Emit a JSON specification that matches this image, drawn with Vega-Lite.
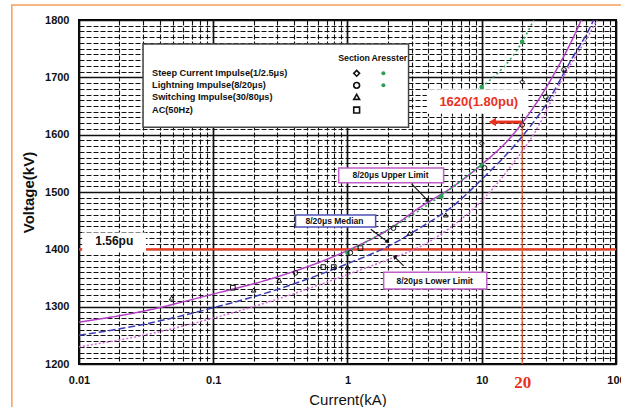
{
  "$schema": "https://vega.github.io/schema/vega-lite/v6.json",
  "width": 537,
  "height": 344,
  "autosize": {"type": "none"},
  "padding": {"left": 79, "top": 20, "right": 5, "bottom": 43},
  "background": "white",
  "config": {"view": {"stroke": "#000", "strokeWidth": 2}, "font": "Liberation Sans"},
  "datasets": {
    "curves": [
      {"I": 0.01, "V": 1273, "s": "upper"}, {"I": 0.03, "V": 1292, "s": "upper"}, {"I": 0.1, "V": 1322, "s": "upper"}, {"I": 0.3, "V": 1352, "s": "upper"}, {"I": 1, "V": 1398, "s": "upper"}, {"I": 2, "V": 1434, "s": "upper"}, {"I": 3.5, "V": 1474, "s": "upper"}, {"I": 6, "V": 1508, "s": "upper"}, {"I": 10, "V": 1548, "s": "upper"}, {"I": 16.5, "V": 1596, "s": "upper"}, {"I": 25, "V": 1652, "s": "upper"}, {"I": 35, "V": 1708, "s": "upper"}, {"I": 50, "V": 1778, "s": "upper"}, {"I": 60, "V": 1820, "s": "upper"},
      {"I": 0.01, "V": 1250, "s": "median"}, {"I": 0.03, "V": 1269, "s": "median"}, {"I": 0.1, "V": 1298, "s": "median"}, {"I": 0.3, "V": 1330, "s": "median"}, {"I": 1, "V": 1375, "s": "median"}, {"I": 2, "V": 1405, "s": "median"}, {"I": 3.5, "V": 1438, "s": "median"}, {"I": 6, "V": 1474, "s": "median"}, {"I": 10, "V": 1522, "s": "median"}, {"I": 20, "V": 1597, "s": "median"}, {"I": 30, "V": 1652, "s": "median"}, {"I": 45, "V": 1725, "s": "median"}, {"I": 68, "V": 1800, "s": "median"}, {"I": 80, "V": 1840, "s": "median"},
      {"I": 0.01, "V": 1230, "s": "lower"}, {"I": 0.03, "V": 1250, "s": "lower"}, {"I": 0.1, "V": 1280, "s": "lower"}, {"I": 0.3, "V": 1313, "s": "lower"}, {"I": 1, "V": 1356, "s": "lower"}, {"I": 2, "V": 1382, "s": "lower"}, {"I": 3.5, "V": 1405, "s": "lower"}, {"I": 6, "V": 1440, "s": "lower"}, {"I": 10, "V": 1485, "s": "lower"}, {"I": 16.5, "V": 1545, "s": "lower"}, {"I": 25, "V": 1605, "s": "lower"}, {"I": 40, "V": 1698, "s": "lower"}, {"I": 72, "V": 1800, "s": "lower"}, {"I": 85, "V": 1835, "s": "lower"}
    ],
    "arrester": [
      {"I": 7, "V": 1658, "g": "steep"}, {"I": 10, "V": 1683, "g": "steep"}, {"I": 20, "V": 1762, "g": "steep"}, {"I": 25, "V": 1805, "g": "steep"},
      {"I": 1, "V": 1396, "g": "lightning"}, {"I": 2, "V": 1434, "g": "lightning"}, {"I": 5, "V": 1494, "g": "lightning"}, {"I": 10, "V": 1548, "g": "lightning"}
    ],
    "arresterPts": [
      {"I": 10, "V": 1683}, {"I": 20, "V": 1762}, {"I": 1, "V": 1394}, {"I": 5, "V": 1492}, {"I": 10, "V": 1546}
    ],
    "section": [
      {"I": 10, "V": 1585, "t": "steep"}, {"I": 20, "V": 1692, "t": "steep"},
      {"I": 20, "V": 1617, "t": "lightning"}, {"I": 10.5, "V": 1542, "t": "lightning"}, {"I": 30, "V": 1666, "t": "lightning"}, {"I": 41, "V": 1713, "t": "lightning"}, {"I": 2.2, "V": 1437, "t": "lightning"}, {"I": 1.05, "V": 1394, "t": "lightning"}, {"I": 0.41, "V": 1359, "t": "lightning"},
      {"I": 5.4, "V": 1460, "t": "switching"}, {"I": 2.9, "V": 1428, "t": "switching"}, {"I": 1.0, "V": 1369, "t": "switching"}, {"I": 0.2, "V": 1329, "t": "switching"}, {"I": 0.049, "V": 1315, "t": "switching"}, {"I": 0.31, "V": 1346, "t": "switching"},
      {"I": 0.14, "V": 1333, "t": "ac"}, {"I": 0.66, "V": 1369, "t": "ac"}, {"I": 0.79, "V": 1369, "t": "ac"}, {"I": 1.25, "V": 1402, "t": "ac"}
    ],
    "boxes": [
      {"I": 0.03, "I2": 2.85, "V": 1758, "V2": 1613, "k": "legend"},
      {"I": 0.0107, "I2": 0.0311, "V": 1428, "V2": 1396, "k": "plain"},
      {"I": 3.95, "I2": 22, "V": 1678, "V2": 1638, "k": "plain"},
      {"I": 0.86, "I2": 5.2, "V": 1542, "V2": 1516, "k": "upper"},
      {"I": 0.41, "I2": 1.62, "V": 1460, "V2": 1439, "k": "median"},
      {"I": 1.86, "I2": 10.9, "V": 1360, "V2": 1331, "k": "lower"}
    ],
    "legendText": [
      {"I": 0.035, "V": 1707, "txt": "Steep Current Impulse(1/2.5μs)"},
      {"I": 0.035, "V": 1686, "txt": "Lightning Impulse(8/20μs)"},
      {"I": 0.035, "V": 1666, "txt": "Switching Impulse(30/80μs)"},
      {"I": 0.035, "V": 1643, "txt": "AC(50Hz)"}
    ],
    "legendHead": [
      {"I": 1.12, "V": 1734, "txt": "Section"},
      {"I": 2.05, "V": 1734, "txt": "Aresster"}
    ],
    "legendSym": [
      {"I": 1.17, "V": 1707, "t": "steep"}, {"I": 1.17, "V": 1686, "t": "lightning"}, {"I": 1.17, "V": 1666, "t": "switching"}, {"I": 1.17, "V": 1643, "t": "ac"}
    ],
    "legendGreen": [{"I": 1.85, "V": 1707}, {"I": 1.85, "V": 1686}],
    "annText": [
      {"I": 2.09, "V": 1529, "txt": "8/20μs Upper Limit"},
      {"I": 0.80, "V": 1449, "txt": "8/20μs Median"},
      {"I": 4.46, "V": 1345, "txt": "8/20μs Lower Limit"}
    ],
    "arrows": [
      {"I": 3.0, "V": 1514, "I2": 3.97, "V2": 1485, "a": 123},
      {"I": 1.49, "V": 1435, "I2": 1.99, "V2": 1413, "a": 127},
      {"I": 2.62, "V": 1371, "I2": 2.24, "V2": 1387, "a": 315}
    ]
  },
  "encoding": {
    "x": {
      "field": "I", "type": "quantitative",
      "scale": {"type": "log", "domain": [0.01, 100], "nice": false},
      "axis": {
        "values": [0.01, 0.02, 0.03, 0.04, 0.05, 0.06, 0.07, 0.08, 0.09, 0.1, 0.2, 0.3, 0.4, 0.5, 0.6, 0.7, 0.8, 0.9, 1, 2, 3, 4, 5, 6, 7, 8, 9, 10, 20, 30, 40, 50, 60, 70, 80, 90, 100],
        "format": "~g",
        "labelExpr": "(datum.value == 20 || abs(log(datum.value)/LN10 - round(log(datum.value)/LN10)) < 0.01) ? datum.label : ''",
        "grid": true,
        "gridColor": "#111",
        "gridOpacity": 1,
        "gridDash": {"condition": {"test": "abs(log(datum.value)/LN10 - round(log(datum.value)/LN10)) < 0.01", "value": []}, "value": [5, 2]},
        "gridWidth": {"condition": {"test": "abs(log(datum.value)/LN10 - round(log(datum.value)/LN10)) < 0.01", "value": 1.7}, "value": 1.1},
        "ticks": false,
        "domain": false,
        "labelOverlap": false,
        "labelFlush": false,
        "labelFontWeight": "bold",
        "labelFontSize": {"condition": {"test": "datum.value == 20", "value": 17}, "value": 11},
        "labelFont": {"condition": {"test": "datum.value == 20", "value": "Liberation Serif"}, "value": "Liberation Sans"},
        "labelColor": {"condition": {"test": "datum.value == 20", "value": "#e8321e"}, "value": "#111"},
        "labelPadding": 10,
        "title": "Current(kA)",
        "titleFontSize": 15,
        "titleFontWeight": "normal",
        "titleColor": "#111",
        "titlePadding": 2
      }
    },
    "y": {
      "field": "V", "type": "quantitative",
      "scale": {"domain": [1200, 1800], "nice": false, "zero": false},
      "axis": {
        "values": [1200, 1210, 1220, 1230, 1240, 1250, 1260, 1270, 1280, 1290, 1300, 1310, 1320, 1330, 1340, 1350, 1360, 1370, 1380, 1390, 1400, 1410, 1420, 1430, 1440, 1450, 1460, 1470, 1480, 1490, 1500, 1510, 1520, 1530, 1540, 1550, 1560, 1570, 1580, 1590, 1600, 1610, 1620, 1630, 1640, 1650, 1660, 1670, 1680, 1690, 1700, 1710, 1720, 1730, 1740, 1750, 1760, 1770, 1780, 1790, 1800],
        "format": "d",
        "labelExpr": "datum.value % 100 == 0 ? datum.label : ''",
        "grid": true,
        "gridColor": "#111",
        "gridOpacity": 1,
        "gridDash": {"condition": {"test": "datum.value % 100 == 0", "value": []}, "value": [5, 2]},
        "gridWidth": {"condition": {"test": "datum.value % 100 == 0", "value": 1.7}, "value": 1.1},
        "ticks": false,
        "domain": false,
        "labelOverlap": false,
        "labelFontWeight": "bold",
        "labelFontSize": 11,
        "labelColor": "#111",
        "labelPadding": 10,
        "title": "Voltage(kV)",
        "titleFontSize": 15,
        "titleFontWeight": "bold",
        "titleColor": "#111",
        "titlePadding": 8
      }
    }
  },
  "layer": [
    {
      "data": {"values": [{"I": 0.00316, "I2": 500, "V": 1826, "V2": 1050}]},
      "mark": {"type": "rect", "fillOpacity": 0, "stroke": "#f4a05a", "strokeWidth": 1.5},
      "encoding": {"x2": {"field": "I2"}, "y2": {"field": "V2"}}
    },
    {
      "data": {"values": [{"I": 0.01, "I2": 100, "V": 1400}]},
      "mark": {"type": "rule", "color": "#ee3b1f", "strokeWidth": 2.2},
      "encoding": {"x2": {"field": "I2"}}
    },
    {
      "data": {"values": [{"I": 20, "V": 1200, "V2": 1622}]},
      "mark": {"type": "rule", "color": "#f0602a", "strokeWidth": 1.2},
      "encoding": {"y2": {"field": "V2"}}
    },
    {
      "data": {"name": "curves"},
      "mark": {"type": "line", "interpolate": "monotone", "clip": true, "strokeWidth": 1.5},
      "encoding": {
        "color": {"field": "s", "type": "nominal", "scale": {"domain": ["upper", "median", "lower"], "range": ["#b23fc4", "#3c3cb4", "#d36ad6"]}, "legend": null},
        "strokeDash": {"field": "s", "type": "nominal", "scale": {"domain": ["upper", "median", "lower"], "range": [[1, 0], [7, 3], [2, 2]]}, "legend": null}
      }
    },
    {
      "data": {"name": "arrester"},
      "mark": {"type": "line", "interpolate": "monotone", "clip": true, "strokeWidth": 1.6, "color": "#2aa055", "strokeDash": [2, 3]},
      "encoding": {"detail": {"field": "g", "type": "nominal"}}
    },
    {
      "data": {"name": "arresterPts"},
      "mark": {"type": "point", "filled": true, "color": "#2aa055", "size": 22, "opacity": 1}
    },
    {
      "data": {"name": "section"},
      "mark": {"type": "point", "filled": false, "color": "#111", "size": 22, "strokeWidth": 1, "opacity": 1},
      "encoding": {
        "shape": {"field": "t", "type": "nominal", "scale": {"domain": ["steep", "lightning", "switching", "ac"], "range": ["diamond", "circle", "triangle-up", "square"]}, "legend": null}
      }
    },
    {
      "data": {"name": "boxes"},
      "mark": {"type": "rect", "fill": "white", "strokeWidth": 1.5},
      "encoding": {
        "x2": {"field": "I2"},
        "y2": {"field": "V2"},
        "stroke": {"field": "k", "type": "nominal", "scale": {"domain": ["upper", "median", "lower", "legend", "plain"], "range": ["#c060c8", "#5050b8", "#c060c8", "#444444", "#ffffff"]}, "legend": null}
      }
    },
    {
      "data": {"name": "legendText"},
      "mark": {"type": "text", "align": "left", "baseline": "middle", "fontSize": 9.2, "fontWeight": "bold", "color": "#111"},
      "encoding": {"text": {"field": "txt"}}
    },
    {
      "data": {"name": "legendHead"},
      "mark": {"type": "text", "align": "center", "baseline": "middle", "fontSize": 8.8, "fontWeight": "bold", "color": "#111"},
      "encoding": {"text": {"field": "txt"}}
    },
    {
      "data": {"name": "legendSym"},
      "mark": {"type": "point", "filled": false, "color": "#111", "size": 34, "strokeWidth": 1.6, "opacity": 1},
      "encoding": {
        "shape": {"field": "t", "type": "nominal", "scale": {"domain": ["steep", "lightning", "switching", "ac"], "range": ["diamond", "circle", "triangle-up", "square"]}, "legend": null}
      }
    },
    {
      "data": {"name": "legendGreen"},
      "mark": {"type": "point", "filled": true, "color": "#2aa055", "size": 16, "opacity": 1}
    },
    {
      "data": {"name": "annText"},
      "mark": {"type": "text", "align": "center", "baseline": "middle", "fontSize": 8.5, "fontWeight": "bold", "color": "#111"},
      "encoding": {"text": {"field": "txt"}}
    },
    {
      "data": {"name": "arrows"},
      "mark": {"type": "rule", "color": "#111", "strokeWidth": 1.1},
      "encoding": {"x2": {"field": "I2"}, "y2": {"field": "V2"}}
    },
    {
      "data": {"name": "arrows"},
      "mark": {"type": "point", "shape": "triangle-up", "filled": true, "color": "#111", "size": 22, "opacity": 1},
      "encoding": {"x": {"field": "I2", "type": "quantitative"}, "y": {"field": "V2", "type": "quantitative"}, "angle": {"field": "a", "type": "quantitative", "scale": null}}
    },
    {
      "data": {"values": [{"I": 0.0183, "V": 1415, "txt": "1.56pu"}]},
      "mark": {"type": "text", "align": "center", "baseline": "middle", "fontSize": 12, "fontWeight": "bold", "color": "#111"},
      "encoding": {"text": {"field": "txt"}}
    },
    {
      "data": {"values": [{"I": 9.5, "V": 1657, "txt": "1620(1.80pu)"}]},
      "mark": {"type": "text", "align": "center", "baseline": "middle", "fontSize": 13, "fontWeight": "bold", "color": "#e8321e"},
      "encoding": {"text": {"field": "txt"}}
    },
    {
      "data": {"values": [{"I": 20, "I2": 12.2, "V": 1622}]},
      "mark": {"type": "rule", "color": "#e8321e", "strokeWidth": 3},
      "encoding": {"x2": {"field": "I2"}}
    },
    {
      "data": {"values": [{"I": 12.0, "V": 1622}]},
      "mark": {"type": "point", "shape": "triangle-left", "filled": true, "color": "#e8321e", "size": 70, "opacity": 1}
    }
  ]
}
